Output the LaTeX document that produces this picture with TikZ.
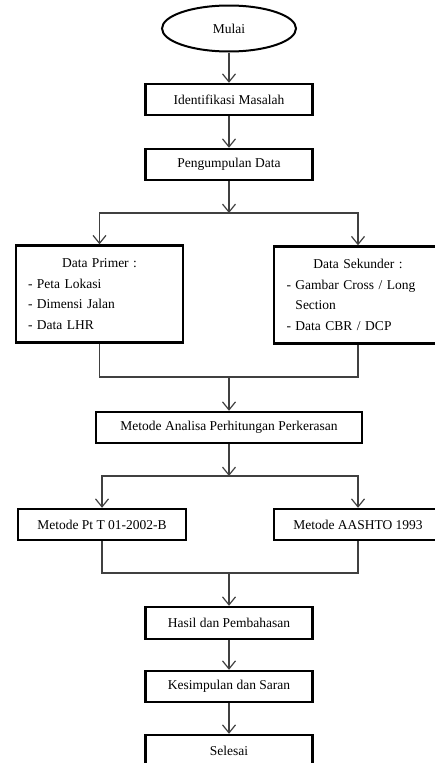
\documentclass[tikz,border=0pt]{standalone}
\usepackage{fontspec}
\setmainfont{Liberation Serif}
\usetikzlibrary{positioning, arrows.meta, shapes.geometric}
\definecolor{lineGray}{HTML}{404040}

\begin{document}
\begin{tikzpicture}[x=1pt, y=-1pt,
    font=\fontsize{13.5}{20.7}\selectfont,
    stepbox/.style={draw=black, line width=2.4pt, minimum width=167pt,
          minimum height=31pt, inner sep=0pt, align=center},
    databox/.style={stepbox, minimum height=97pt, text width=143pt,
          inner xsep=12pt, align=left},
    arr/.style={draw=lineGray, line width=1.2pt, -{Straight Barb[length=8pt, width=13pt]}},
    link/.style={draw=lineGray, line width=1.2pt}]
    \useasboundingbox (0,0) rectangle (435,763);

    % alur utama
    \node[draw=black, line width=2pt, ellipse, minimum width=134pt,
          minimum height=46pt, inner sep=0pt] (mulai) at (229,28.5) {Mulai};
    \node[stepbox] (identifikasi) at (229,99.5) {Identifikasi Masalah};
    \node[stepbox] (pengumpulan) at (229,164.5) {Pengumpulan Data};

    % data primer dan sekunder
    \node[databox] (primer) at (99.5,294)
      {{\centering Data Primer :\par}- Peta Lokasi\\- Dimensi Jalan\\- Data LHR};
    \node[databox, minimum width=168pt] (sekunder) at (358,295)
      {{\centering Data Sekunder :\par}- Gambar Cross / Long\\\phantom{- }Section\\- Data CBR / DCP};

    \node[stepbox, minimum width=266pt] (analisa) at (229,427.5)
      {Metode Analisa Perhitungan Perkerasan};

    % dua metode
    \node[stepbox, minimum width=168pt] (ptt) at (102,524.5) {Metode Pt T 01-2002-B};
    \node[stepbox, minimum width=168pt] (aashto) at (358,524.5) {Metode AASHTO 1993};

    \node[stepbox, minimum height=32pt] (hasil) at (229,623) {Hasil dan Pembahasan};
    \node[stepbox] (kesimpulan) at (229,686.5) {Kesimpulan dan Saran};
    \node[stepbox] (selesai) at (229,750.5) {Selesai};

    \coordinate (cabang1) at (229,213);
    \coordinate (gabung1) at (229,377);
    \coordinate (cabang2) at (229,476);
    \coordinate (gabung2) at (229,573);

    \draw[arr] (mulai) -- (identifikasi);
    \draw[arr] (identifikasi) -- (pengumpulan);
    \draw[arr] (pengumpulan) -- (cabang1);
    \draw[arr] (cabang1) -| (primer);
    \draw[arr] (cabang1) -| (sekunder);
    \draw[link] (primer) |- (gabung1) -| (sekunder);
    \draw[arr] (gabung1) -- (analisa);
    \draw[arr] (analisa) -- (cabang2);
    \draw[arr] (cabang2) -| (ptt);
    \draw[arr] (cabang2) -| (aashto);
    \draw[link] (ptt) |- (gabung2) -| (aashto);
    \draw[arr] (gabung2) -- (hasil);
    \draw[arr] (hasil) -- (kesimpulan);
    \draw[arr] (kesimpulan) -- (selesai);
  \end{tikzpicture}
\end{document}
